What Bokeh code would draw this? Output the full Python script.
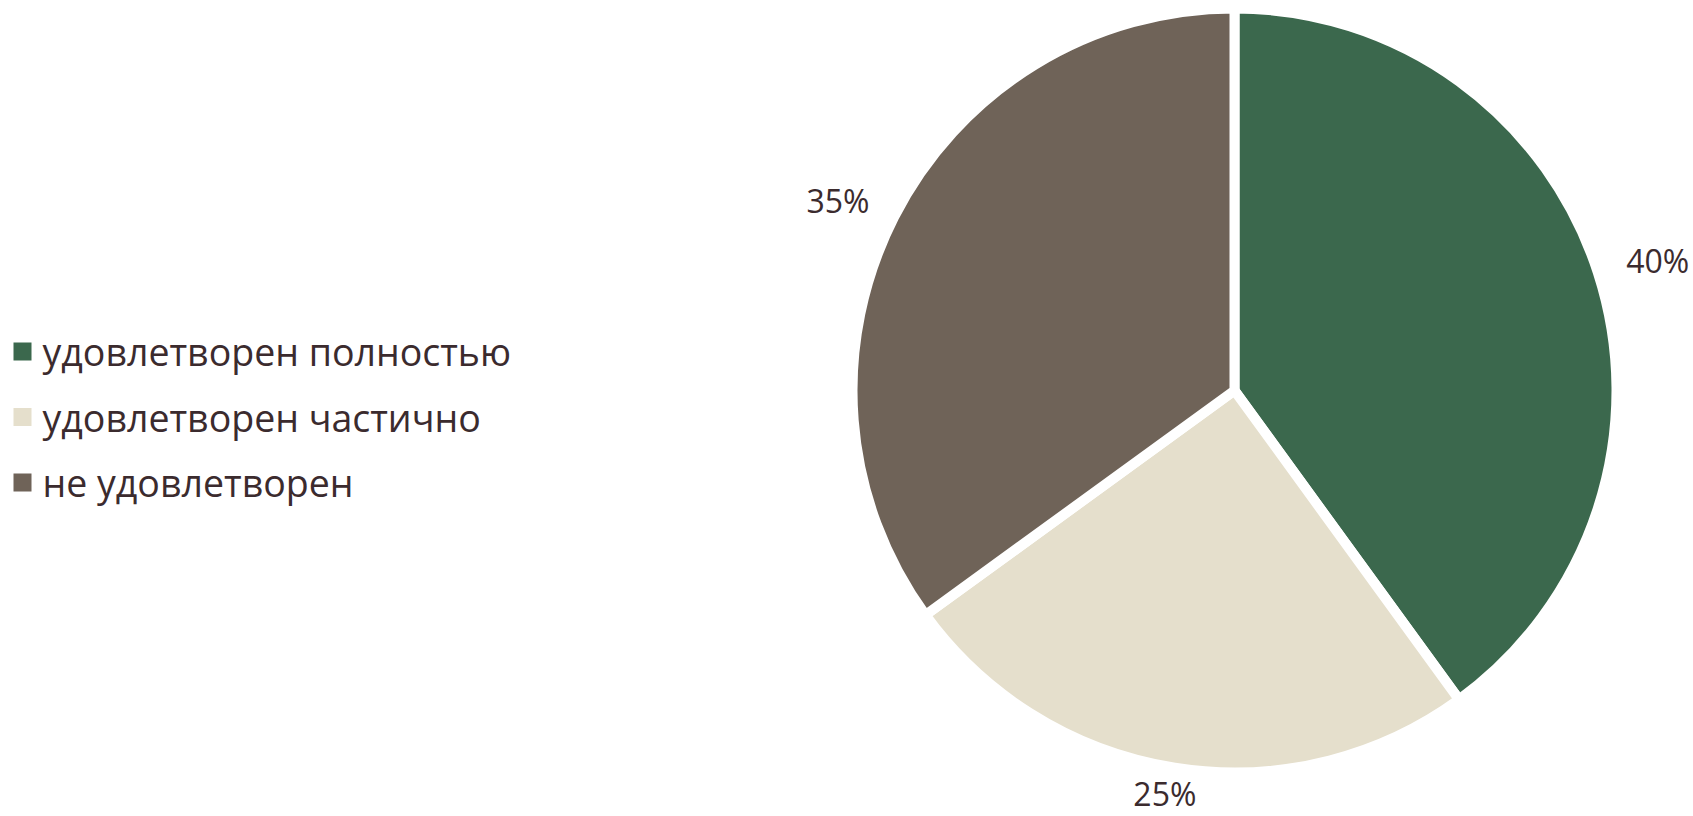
import numpy as np
from bokeh.plotting import figure
from bokeh.models import Range1d, ColumnDataSource
from bokeh.core.properties import value
from bokeh.embed import file_html
from bokeh.resources import INLINE

categories = ["удовлетворен полностью", "удовлетворен частично", "не удовлетворен"]
shares = [40, 25, 35]
labels = ["40%", "25%", "35%"]
colors = ["#3b684d", "#e5dfcc", "#6f6358"]

W, H = 1693, 816
FONT = "Open Sans"
TXT = "#3b2b2e"

p = figure(width=W, height=H, output_backend="svg", toolbar_location=None,
           x_range=Range1d(0, W), y_range=Range1d(0, H), min_border=0)
p.axis.visible = False
p.grid.visible = False
p.outline_line_color = None

cx, cy, r = 1234, 426, 382
vals = np.array(shares, dtype=float)
frac = vals / vals.sum()
ends = np.pi / 2 - 2 * np.pi * np.cumsum(frac)
starts = np.concatenate([[np.pi / 2], ends[:-1]])
src = ColumnDataSource(dict(start=ends, end=starts, color=colors, cat=categories))
p.wedge(x=cx, y=cy, radius=r, start_angle="start", end_angle="end",
        fill_color="color", line_color="white", line_width=10, source=src)

mid = (starts + ends) / 2
ax_, by_ = 445, 411
lsrc = ColumnDataSource(dict(x=cx + ax_ * np.cos(mid), y=cy + by_ * np.sin(mid) + 3, t=labels))
p.text(x="x", y="y", text="t", source=lsrc, text_align="center", text_baseline="middle",
       text_font=value(FONT), text_font_size="32px", text_color=TXT)

n = len(categories)
ys = 465 - 65.5 * np.arange(n)
leg = ColumnDataSource(dict(x=np.full(n, 22.0), y=ys, tx=np.full(n, 42.0), ty=ys, c=colors, cat=categories))
p.rect(x="x", y="y", width=18, height=18, fill_color="c", line_color=None, source=leg)
p.text(x="tx", y="ty", text="cat", source=leg, text_align="left", text_baseline="alphabetic",
       text_font=value(FONT), text_font_size="37.5px", text_color=TXT)

open("out.html", "w").write(file_html(p, INLINE))
